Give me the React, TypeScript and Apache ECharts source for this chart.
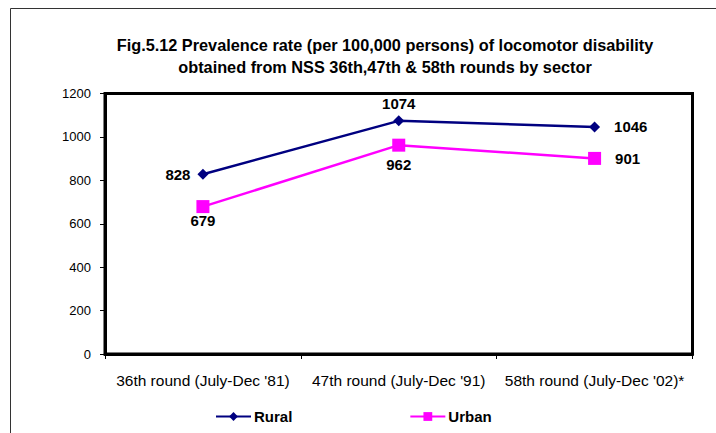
import React, { useEffect, useRef } from "react";
import * as echarts from "echarts";

const titleLines = [
  "Fig.5.12 Prevalence rate (per 100,000 persons) of locomotor disability",
  "obtained from NSS 36th,47th & 58th rounds by sector",
];
const categories = [
  "36th round (July-Dec '81)",
  "47th round (July-Dec '91)",
  "58th round (July-Dec '02)*",
];
const ruralValues = [828, 1074, 1046];
const urbanValues = [679, 962, 901];
const ruralLabelPos = ["left", "top", "right"];
const urbanLabelPos = ["bottom", "bottom", "right"];

const FONT = "'Liberation Sans', Arial, sans-serif";

export default function App() {
  const ref = useRef<HTMLDivElement>(null);
  useEffect(() => {
    document.body.style.margin = "0";
    const chart = echarts.init(ref.current!, null, { renderer: "svg" });
    const mkData = (vals: number[], pos: string[], dist: number[]) =>
      vals.map((v, i) => ({
        value: v,
        label: { position: pos[i], distance: dist[i] },
      }));
    const labelStyle = {
      show: true,
      color: "#000",
      fontSize: 15,
      fontWeight: "bold",
      fontFamily: FONT,
    };
    chart.setOption({
      animation: false,
      backgroundColor: "#fff",
      textStyle: { fontFamily: FONT },
      title: {
        text: titleLines.join("\n"),
        left: 385,
        textAlign: "center",
        top: 34,
        padding: 0,
        textStyle: {
          fontFamily: FONT,
          fontSize: 16.3,
          fontWeight: "bold",
          color: "#000",
          lineHeight: 22,
        },
      },
      graphic: [
        {
          type: "line",
          shape: { x1: 10.5, y1: 8.5, x2: 716, y2: 8.5 },
          style: { stroke: "#333", lineWidth: 1 },
        },
        {
          type: "line",
          shape: { x1: 10.5, y1: 8.5, x2: 10.5, y2: 433 },
          style: { stroke: "#333", lineWidth: 1 },
        },
      ],
      legend: {
        left: 215,
        top: 409,
        padding: 0,
        itemWidth: 35,
        itemHeight: 11,
        itemGap: 117,
        textStyle: { fontFamily: FONT, fontSize: 15, fontWeight: "bold", color: "#000", padding: [0, 0, 0, -2] },
        data: ["Rural", "Urban"],
      },
      grid: {
        left: 105,
        right: 23.5,
        top: 93.5,
        bottom: 79,
        show: true,
        borderColor: "#000",
        borderWidth: 3,
      },
      xAxis: {
        type: "category",
        data: categories,
        boundaryGap: true,
        axisLine: { lineStyle: { color: "#000", width: 3 } },
        axisTick: { show: true, length: 5, lineStyle: { color: "#000", width: 1 } },
        axisLabel: { color: "#000", fontSize: 15.5, fontFamily: FONT, margin: 18, interval: 0 },
      },
      yAxis: {
        type: "value",
        min: 0,
        max: 1200,
        interval: 200,
        splitLine: { show: false },
        axisLine: { show: true, lineStyle: { color: "#000", width: 3 } },
        axisTick: { show: true, length: 5, lineStyle: { color: "#000", width: 1 } },
        axisLabel: {
          color: "#000",
          fontSize: 13,
          fontFamily: FONT,
          margin: 14,
          formatter: (v: number) => String(v),
        },
      },
      series: [
        {
          name: "Rural",
          type: "line",
          data: mkData(ruralValues, ruralLabelPos, [7, 4, 14]),
          symbol: "diamond",
          symbolSize: 11,
          lineStyle: { color: "#000080", width: 2.5 },
          itemStyle: { color: "#000080" },
          label: labelStyle,
        },
        {
          name: "Urban",
          type: "line",
          data: mkData(urbanValues, urbanLabelPos, [0, 5, 14]),
          symbol: "rect",
          symbolSize: 13,
          lineStyle: { color: "#FF00FF", width: 2.5 },
          itemStyle: { color: "#FF00FF" },
          label: labelStyle,
        },
      ],
    });
    return () => chart.dispose();
  }, []);
  return <div ref={ref} style={{ width: 716, height: 433 }} />;
}
